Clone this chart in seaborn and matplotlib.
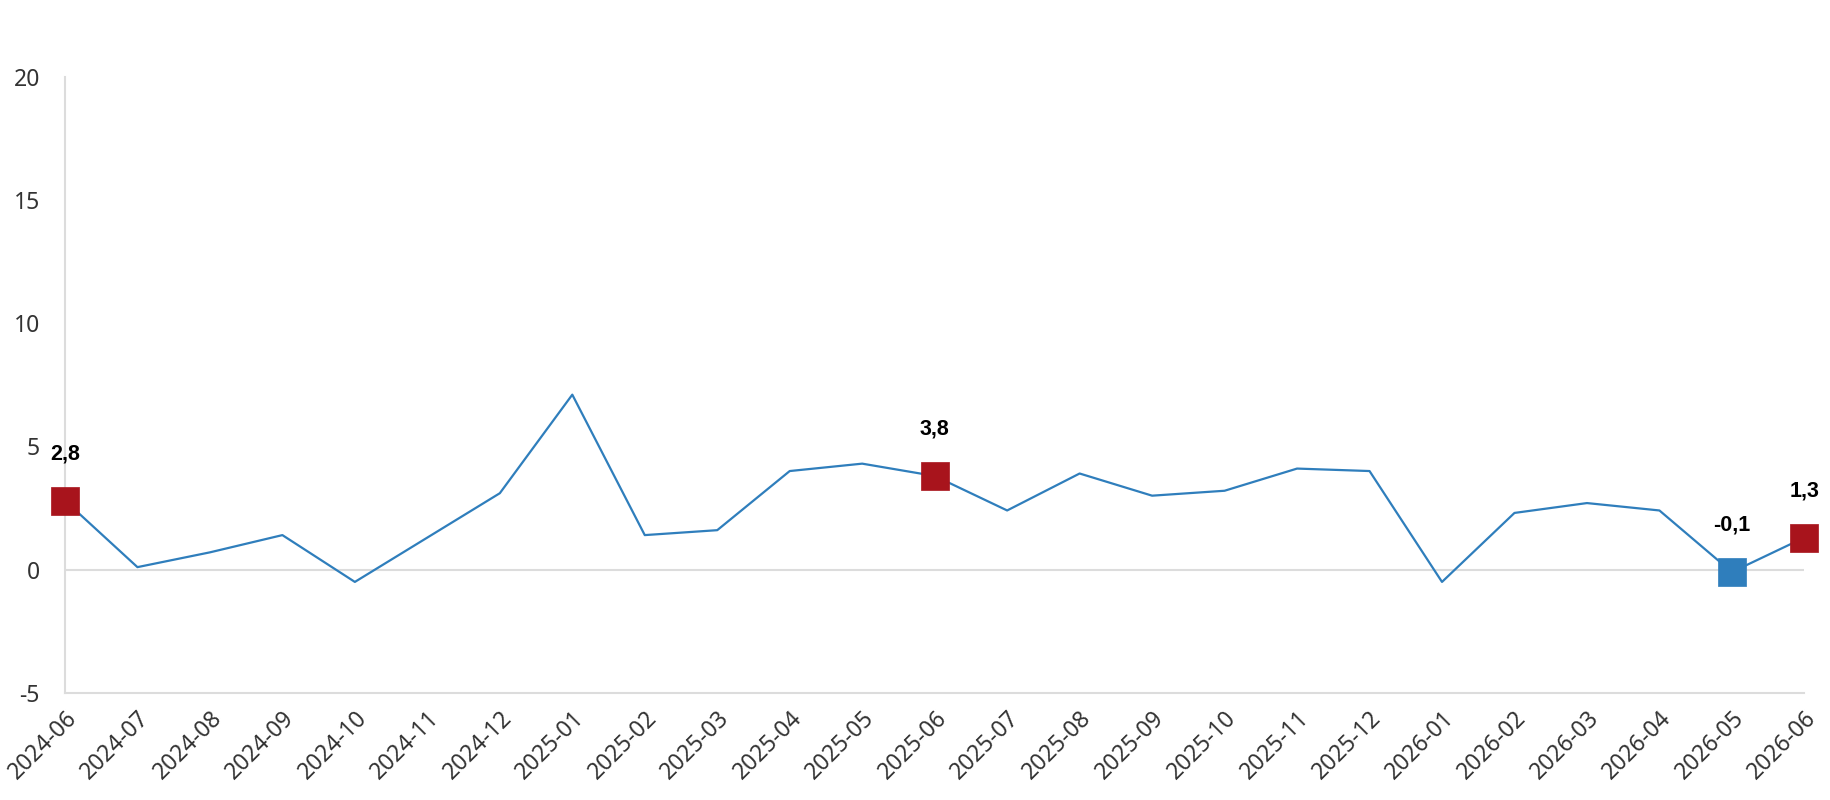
import numpy as np
import pandas as pd
import seaborn as sns
import matplotlib.pyplot as plt

# Monthly values
months = ['2024-06', '2024-07', '2024-08', '2024-09', '2024-10', '2024-11', '2024-12',
          '2025-01', '2025-02', '2025-03', '2025-04', '2025-05', '2025-06', '2025-07',
          '2025-08', '2025-09', '2025-10', '2025-11', '2025-12', '2026-01', '2026-02',
          '2026-03', '2026-04', '2026-05', '2026-06']
values = [2.8, 0.1, 0.7, 1.4, -0.5, 1.3, 3.1, 7.1, 1.4, 1.6, 4.0, 4.3, 3.8, 2.4,
          3.9, 3.0, 3.2, 4.1, 4.0, -0.5, 2.3, 2.7, 2.4, -0.1, 1.3]

# Highlighted points (month, marker colour)
highlight_months = ['2024-06', '2025-06', '2026-05', '2026-06']
highlight_colors = ['#a8141c', '#a8141c', '#2f7ebc', '#a8141c']

y_ticks = [-5, 0, 5, 10, 15, 20]

df = pd.DataFrame({'month': months, 'value': values})
df['pos'] = np.arange(len(df))

sns.set_style('white')
plt.rcParams['font.family'] = ['Noto Sans', 'DejaVu Sans']

fig, ax = plt.subplots(figsize=(18.3, 8), dpi=100)
fig.subplots_adjust(left=0.0355, right=0.986, top=0.904, bottom=0.134)

ax.axhline(0, color='#dcdcdc', lw=1.5, zorder=1)
sns.lineplot(data=df, x='pos', y='value', color='#2f7ebc', lw=1.6, ax=ax, zorder=2)

hl = df[df['month'].isin(highlight_months)].copy()
hl['color'] = [highlight_colors[highlight_months.index(m)] for m in hl['month']]
for _, r in hl.iterrows():
    sns.scatterplot(x=[r['pos']], y=[r['value']], marker='s', s=420, color=r['color'],
                    edgecolor=r['color'], linewidth=0.5, ax=ax, zorder=4, clip_on=False)
    ax.annotate(f"{r['value']:.1f}".replace('.', ','), (r['pos'], r['value']),
                xytext=(0, 26), textcoords='offset points', ha='center', va='bottom',
                fontsize=15.5, fontweight='bold', family=['Liberation Sans', 'DejaVu Sans'],
                color='black')

ax.set_xlim(0, len(months) - 1)
ax.set_ylim(-5, 20)
ax.set_yticks(y_ticks)
ax.set_yticklabels([str(t) for t in y_ticks], fontsize=16.5, color='#333333')
ax.set_xticks(df['pos'])
ax.set_xticklabels(months, rotation=45, ha='right', rotation_mode='anchor',
                   fontsize=16.5, color='#333333')
ax.tick_params(axis='y', length=0, pad=18)
ax.tick_params(axis='x', length=0, pad=10)
ax.set_xlabel('')
ax.set_ylabel('')

for side in ['top', 'right']:
    ax.spines[side].set_visible(False)
for side in ['left', 'bottom']:
    ax.spines[side].set_color('#dcdcdc')
    ax.spines[side].set_linewidth(1.5)

fig.savefig('out.png', dpi=100)
